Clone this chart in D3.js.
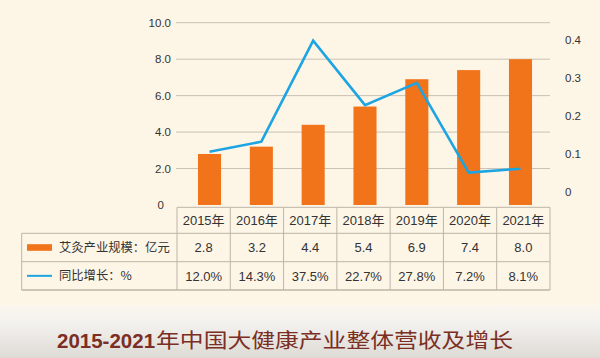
<!DOCTYPE html>
<html><head><meta charset="utf-8">
<script src="https://cdn.jsdelivr.net/npm/d3@7"></script>
<style>
html,body{margin:0;padding:0;background:#fdf6e7;}
svg{display:block;font-family:"Liberation Sans",Arial,"Noto Sans CJK SC",sans-serif;}
</style></head>
<body>
<svg id="c" width="600" height="358"></svg>
<script>
const years = ["2015年","2016年","2017年","2018年","2019年","2020年","2021年"];
const scaleValues = [2.8, 3.2, 4.4, 5.4, 6.9, 7.4, 8.0];
const growthValues = [0.120, 0.143, 0.375, 0.227, 0.278, 0.072, 0.081];
const growthLabels = ["12.0%","14.3%","37.5%","22.7%","27.8%","7.2%","8.1%"];
const leftTicks = [0, 2, 4, 6, 8, 10];
const rightTicks = [0, 0.1, 0.2, 0.3, 0.4];
const seriesNames = ["艾灸产业规模：亿元", "同比增长：%"];
const titleYears = "2015-2021";
const titleText = "年中国大健康产业整体营收及增长";

const svg = d3.select("#c");
const W = 600, H = 358;
const barColor = "#f1731a", lineColor = "#1da4e2", gridColor = "#c9c1b4", textColor = "#333";

// background
const defs = svg.append("defs");
const g1 = defs.append("linearGradient").attr("id","bot").attr("x1",0).attr("y1",0).attr("x2",0).attr("y2",1);
g1.append("stop").attr("offset","0%").attr("stop-color","#fbf7ef");
g1.append("stop").attr("offset","35%").attr("stop-color","#f3f1ee");
g1.append("stop").attr("offset","100%").attr("stop-color","#dedbd6");
svg.append("rect").attr("width",W).attr("height",H).attr("fill","#fdf6e7");
svg.append("rect").attr("x",0).attr("y",305).attr("width",W).attr("height",H-305).attr("fill","url(#bot)");

// scales
const xTable = d3.scaleBand().domain(years).range([177, 550]).padding(0);
const xBar = d3.scaleBand().domain(years).range([183.6, 546.4]).paddingInner(0.555).paddingOuter(0.2775);
const yL = d3.scaleLinear().domain([0, 10]).range([205, 22.7]);
const yLine = d3.scaleLinear().domain([0, 0.42]).range([204, 21]);
const yR = d3.scaleLinear().domain([0, 0.4]).range([191.7, 40]);

// grid
svg.append("g").selectAll("line").data(leftTicks.filter(d=>d>0)).join("line")
  .attr("x1",176).attr("x2",550).attr("y1",d=>yL(d)).attr("y2",d=>yL(d))
  .attr("stroke",gridColor).attr("stroke-width",1);

// left axis labels
const axL = svg.append("g").attr("transform","translate(176,0)")
  .call(d3.axisLeft(yL).tickValues(leftTicks).tickSize(0).tickPadding(5)
        .tickFormat(d=> d===0 ? "0" : d3.format(".1f")(d)));
axL.select(".domain").remove();
axL.selectAll("text").attr("fill",textColor).style("font-size","11.5px")
  .attr("x", d=> d===0 ? -12 : -5);

// right axis labels
const axR = svg.append("g").attr("transform","translate(560,0)")
  .call(d3.axisRight(yR).tickValues(rightTicks).tickSize(0).tickPadding(5)
        .tickFormat(d=> d===0 ? "0" : d3.format(".1f")(d)));
axR.select(".domain").remove();
axR.selectAll("text").attr("fill",textColor).style("font-size","11.5px");

// bars
svg.append("g").selectAll("rect").data(scaleValues).join("rect")
  .attr("x",(d,i)=>xBar(years[i])).attr("width",xBar.bandwidth())
  .attr("y",d=>yL(d)).attr("height",d=>yL(0)-yL(d)).attr("fill",barColor);

// line
const line = d3.line().x((d,i)=>xBar(years[i])+xBar.bandwidth()/2).y(d=>yLine(d));
svg.append("path").datum(growthValues).attr("d",line).attr("fill","none")
  .attr("stroke",lineColor).attr("stroke-width",2.6).attr("stroke-linejoin","miter");

// table
const tb = svg.append("g");
const tColor = "#bcb4a8";
const rowY = [207.3, 233.3, 261.7, 290];
const tLeft = 21.7;
tb.append("line").attr("x1",177).attr("x2",550).attr("y1",rowY[0]).attr("y2",rowY[0]).attr("stroke",tColor);
[1,2,3].forEach(k=>{
  tb.append("line").attr("x1",tLeft).attr("x2",550).attr("y1",rowY[k]).attr("y2",rowY[k]).attr("stroke",tColor).attr("stroke-width", k===3?1.5:1);
});
const vx = years.map(y=>xTable(y)).concat([xTable.range()[1]]);
tb.selectAll("line.v").data(vx).join("line").attr("class","v")
  .attr("x1",d=>d).attr("x2",d=>d).attr("y1",rowY[0]).attr("y2",rowY[3]).attr("stroke",tColor);
tb.append("line").attr("x1",tLeft).attr("x2",tLeft).attr("y1",rowY[1]).attr("y2",rowY[3]).attr("stroke",tColor);

const cx = d=>xTable(d)+xTable.bandwidth()/2;
const fs = "13px";
tb.selectAll("text.yr").data(years).join("text").attr("class","yr")
  .attr("x",d=>cx(d)).attr("y",(rowY[0]+rowY[1])/2).attr("dy","0.36em")
  .attr("text-anchor","middle").attr("fill",textColor).style("font-size",fs).text(d=>d);
tb.selectAll("text.v1").data(scaleValues).join("text").attr("class","v1")
  .attr("x",(d,i)=>cx(years[i])).attr("y",(rowY[1]+rowY[2])/2).attr("dy","0.36em")
  .attr("text-anchor","middle").attr("fill",textColor).style("font-size",fs).text(d=>d.toFixed(1));
tb.selectAll("text.v2").data(growthLabels).join("text").attr("class","v2")
  .attr("x",(d,i)=>cx(years[i])).attr("y",(rowY[2]+rowY[3])/2).attr("dy","0.36em")
  .attr("text-anchor","middle").attr("fill",textColor).style("font-size",fs).text(d=>d);

const r1 = (rowY[1]+rowY[2])/2, r2 = (rowY[2]+rowY[3])/2;
tb.append("rect").attr("x",27).attr("y",r1-3.3).attr("width",25).attr("height",6.6).attr("fill",barColor);
tb.append("line").attr("x1",27).attr("x2",52).attr("y1",r2).attr("y2",r2).attr("stroke",lineColor).attr("stroke-width",2);
tb.append("text").attr("x",59).attr("y",r1).attr("dy","0.36em").attr("fill",textColor)
  .style("font-size","12.3px").style("font-family","'Noto Sans CJK SC',sans-serif").text(seriesNames[0]);
tb.append("text").attr("x",59).attr("y",r2).attr("dy","0.36em").attr("fill",textColor)
  .style("font-size","12.3px").style("font-family","'Noto Sans CJK SC',sans-serif").text(seriesNames[1]);

// title
const t1 = svg.append("text").attr("x",57).attr("y",347.5)
  .attr("fill","#7b2f24").style("font-size","20.5px").style("font-weight","bold")
  .style("font-family","'Liberation Sans',Arial,sans-serif").text(titleYears);
const w1 = t1.node().getComputedTextLength();
svg.append("text").attr("x",57 + w1 + 1).attr("y",348)
  .attr("fill","#7b2f24").style("font-size","20px")
  .style("font-family","'Noto Sans CJK SC',sans-serif")
  .attr("textLength", 513 - (57 + w1 + 1)).attr("lengthAdjust","spacingAndGlyphs")
  .text(titleText);
</script>
</body></html>
